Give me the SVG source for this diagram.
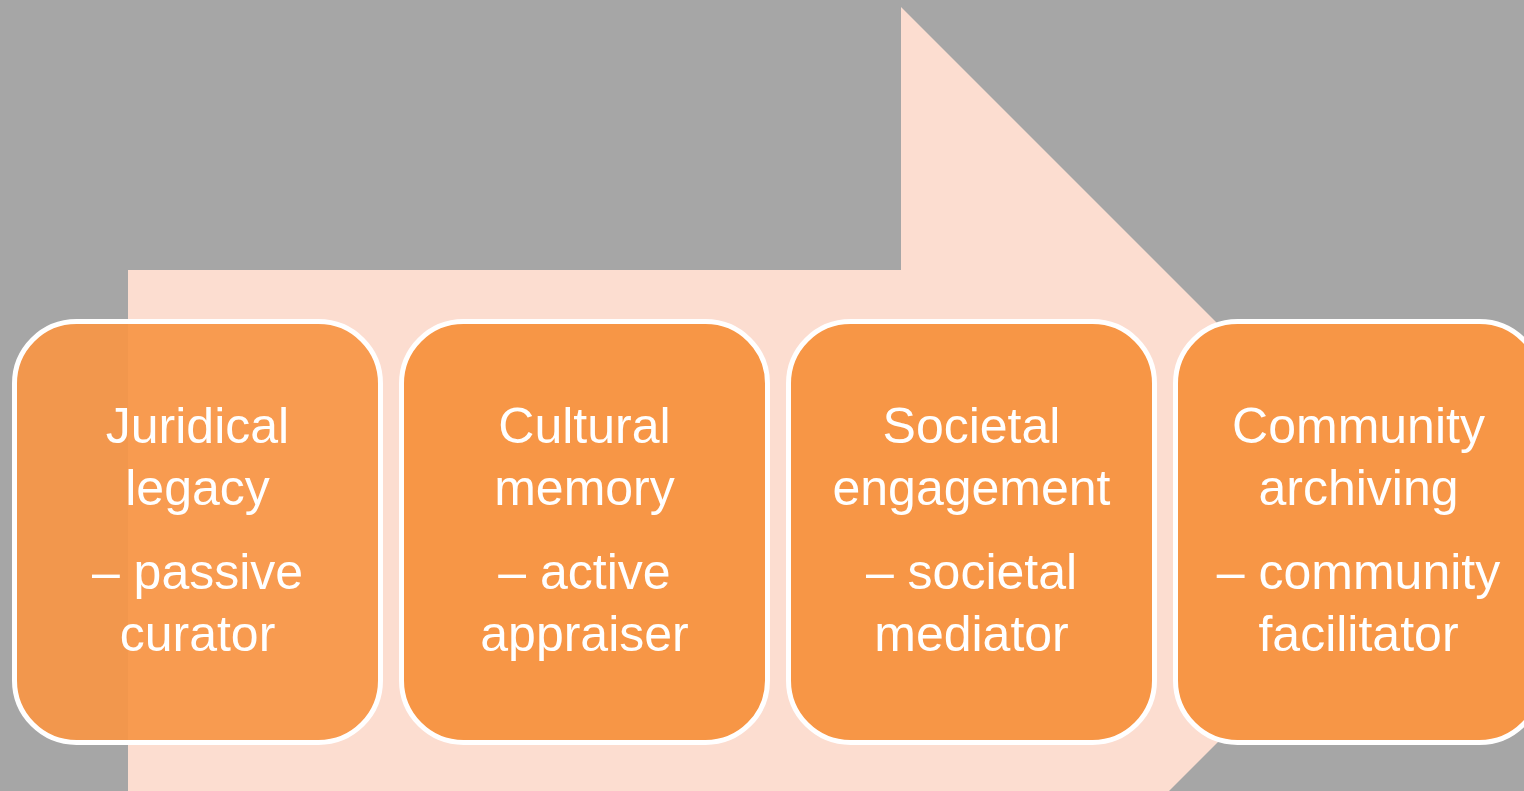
<svg xmlns="http://www.w3.org/2000/svg" width="1524" height="791" viewBox="0 0 1524 791">
<style>
.box{fill:#f79646;stroke:#ffffff;stroke-width:5}
.t{fill:#ffffff;font-family:"Liberation Sans",Arial,sans-serif;font-size:50px;text-anchor:middle}
</style>
<rect x="0" y="0" width="1524" height="791" fill="#a6a6a6"/>
<g id="arrow">
<polygon points="128,270 901,270 901,7 1427,533 901,1059 901,796 128,796" fill="#fcddd0"/>
</g>
<g id="node1">
<rect class="box" x="14.5" y="321.5" width="366" height="421" rx="62" fill-opacity="0.93"/>
<text class="t" x="197.5" y="443">Juridical</text>
<text class="t" x="197.5" y="505">legacy</text>
<text class="t" x="197.5" y="589">– passive</text>
<text class="t" x="197.5" y="651">curator</text>
</g>
<g id="node2">
<rect class="box" x="401.5" y="321.5" width="366" height="421" rx="62"/>
<text class="t" x="584.5" y="443">Cultural</text>
<text class="t" x="584.5" y="505">memory</text>
<text class="t" x="584.5" y="589">– active</text>
<text class="t" x="584.5" y="651">appraiser</text>
</g>
<g id="node3">
<rect class="box" x="788.5" y="321.5" width="366" height="421" rx="62"/>
<text class="t" x="971.5" y="443">Societal</text>
<text class="t" x="971.5" y="505">engagement</text>
<text class="t" x="971.5" y="589">– societal</text>
<text class="t" x="971.5" y="651">mediator</text>
</g>
<g id="node4">
<rect class="box" x="1175.5" y="321.5" width="366" height="421" rx="62"/>
<text class="t" x="1358.5" y="443">Community</text>
<text class="t" x="1358.5" y="505">archiving</text>
<text class="t" x="1358.5" y="589">– community</text>
<text class="t" x="1358.5" y="651">facilitator</text>
</g>
<g id="connectors"></g>
</svg>
